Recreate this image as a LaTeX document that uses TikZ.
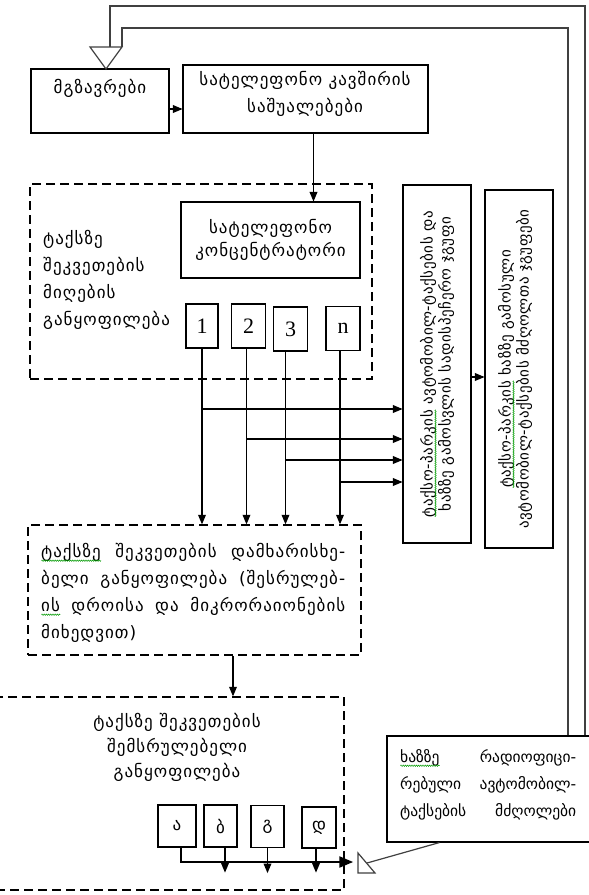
\documentclass[tikz,border=0pt]{standalone}
\usepackage{fontspec}
\setmainfont{DejaVu Sans}
\newfontfamily\geofont[LetterSpace=6]{DejaVu Sans}
\newfontfamily\geovfont[LetterSpace=4]{DejaVu Sans}
\newfontfamily\numfont{Liberation Serif}
\usetikzlibrary{arrows}
\usetikzlibrary{decorations.pathmorphing}
\newsavebox{\errbox}
\newcommand{\spellerr}[1]{\sbox{\errbox}{#1}\rlap{\usebox{\errbox}}\makebox[\wd\errbox][l]{\raisebox{-4pt}{\tikz\draw[green!60!black, line width=0.5pt, decorate, decoration={zigzag, amplitude=0.7pt, segment length=2.2pt}] (0pt,0pt) -- (\wd\errbox,0pt);}}}

\begin{document}
\begin{tikzpicture}[x=1pt,y=-1pt]
  \tikzstyle{box} = [rectangle, draw=black, line width=1.1pt, inner sep=0pt]
  \tikzstyle{dbox} = [rectangle, draw=black, line width=1.4pt, dash pattern=on 9pt off 5pt, inner sep=0pt]
  \tikzstyle{arr} = [-triangle 45, line width=1.2pt]
  \tikzstyle{gtext} = [font=\geofont\fontsize{17}{27}\selectfont, inner sep=0pt]
  \tikzstyle{vtext} = [font=\geovfont\fontsize{15}{18}\selectfont, inner sep=0pt, rotate=90, align=center]
  \tikzstyle{numbox} = [box, minimum width=34, minimum height=44, font=\numfont\fontsize{22}{22}\selectfont]
  \tikzstyle{letbox} = [box, minimum width=34, minimum height=42, font=\fontsize{17}{17}\selectfont]
  \tikzstyle{fback} = [line width=1.2pt, draw=black!75]

  \useasboundingbox (0,0) rectangle (589,895);

  % passengers and telephone lines
  \node[box, minimum width=138, minimum height=64] (pass) at (100,101) {};
  \node[gtext] (passtxt) at (100,88) {მგზავრები};
  \node[box, minimum width=245, minimum height=68] (tel) at (305.5,99) {};
  \node[gtext, align=center] (teltxt) at (305,94) {სატელეფონო კავშირის\\საშუალებები};

  % order reception
  \node[dbox, minimum width=342, minimum height=195] (recv) at (201,281.5) {};
  \node[gtext, align=left, anchor=west] (recvtxt) at (43,280) {ტაქსზე\\შეკვეთების\\მიღების\\განყოფილება};
  \node[box, minimum width=179, minimum height=76, align=center, font=\geofont\fontsize{17}{23}\selectfont] (conc) at (270.5,240) {სატელეფონო\\კონცენტრატორი};
  \node[numbox, minimum width=32] (op1) at (202,326) {1};
  \node[numbox] (op2) at (248.5,326) {2};
  \node[numbox] (op3) at (290.5,329) {3};
  \node[numbox] (opn) at (343,328.5) {n};

  % taxi park boxes
  \node[box, minimum width=68, minimum height=358] (vbox1) at (437,364) {};
  \node[vtext] (vbox1txt) at (vbox1) {\spellerr{ტაქსო-პარკის} ავტომობილ-ტაქსების და\\ხაზზე გამოსვლის სადისპეჩერო ჯგუფი};
  \node[box, minimum width=68, minimum height=358] (vbox2) at (519,369) {};
  \node[vtext] (vbox2txt) at ([xshift=-4]vbox2.center) {\spellerr{ტაქსო-პარკის} ხაზზე გამოსული\\ავტომობილ-ტაქსების მძღოლთა ჯგუფები};

  % sorting
  \node[dbox, minimum width=333, minimum height=130] (sort) at (194.5,590) {};
  \node[gtext, align=left, anchor=west] (sorttxt) at (41,593) {\makebox[304pt][s]{\spellerr{ტაქსზე} შეკვეთების დამხარისხე-}\\\makebox[304pt][s]{ბელი განყოფილება (შესრულებ-}\\\makebox[304pt][s]{\spellerr{ის} დროისა და მიკრორაიონების}\\მიხედვით)};

  % execution
  \node[dbox, minimum width=348, minimum height=193] (exec) at (170,793.5) {};
  \node[gtext, align=center, font=\geofont\fontsize{17}{25}\selectfont] (exectxt) at (177,747) {ტაქსზე შეკვეთების\\შემსრულებელი\\განყოფილება};
  \node[letbox, minimum width=38] (ea) at (177,826) {ა};
  \node[letbox, minimum width=33] (eb) at (220.5,826) {ბ};
  \node[letbox, minimum width=33] (eg) at (267.5,826.5) {გ};
  \node[letbox, minimum height=41] (ed) at (319,827.5) {დ};

  % drivers
  \node[box, minimum width=213, minimum height=106] (drv) at (493.5,789) {};
  \node[gtext, align=left, anchor=west, font=\fontsize{15.5}{27}\selectfont] (drvtxt) at (400,785) {\makebox[176pt][s]{\spellerr{ხაზზე} რადიოფიცი-}\\\makebox[176pt][s]{რებული ავტომობილ-}\\\makebox[176pt][s]{ტაქსების მძღოლები}};

  % connectors
  \draw[arr] ([yshift=-8]pass.east) -- ([yshift=-8]pass.east -| tel.west);
  \draw[arr] ([xshift=8]tel.south) -- ([xshift=8]tel.south |- conc.north);
  \draw[arr] (op1.south) -- (op1.south |- sort.north);
  \draw[arr] ([xshift=-2]op2.south) -- ([xshift=-2]op2.south |- sort.north);
  \draw[arr] ([xshift=-5]op3.south) -- ([xshift=-5]op3.south |- sort.north);
  \draw[arr] ([xshift=-3]opn.south) -- ([xshift=-3]opn.south |- sort.north);
  \draw[arr] (op1.south |- 0,409) -- (vbox1.west |- 0,409);
  \draw[arr] ([xshift=-2]op2.south |- 0,439) -- (vbox1.west |- 0,439);
  \draw[arr] ([xshift=-5]op3.south |- 0,460) -- (vbox1.west |- 0,460);
  \draw[arr] ([xshift=-3]opn.south |- 0,482) -- (vbox1.west |- 0,482);
  \draw[arr] (vbox1.east |- 0,377) -- (vbox2.west |- 0,377);
  \draw[arr] ([xshift=38.5]sort.south) -- ([xshift=38.5]sort.south |- exec.north);

  \coordinate (busend) at (353,862);
  \draw[arr, line width=2.2pt] ([xshift=4]ea.south) |- (busend);
  \draw[arr] ([xshift=4.5]eb.south) -- ++(0,25);
  \draw[arr] (eg.south) -- ++(0,25);
  \draw[arr] ([xshift=-3]ed.south) -- ++(0,24);

  % feedback to passengers
  \coordinate (fbo) at (585,6);
  \coordinate (fbi) at (568,28);
  \coordinate (tri1) at (106,69);
  \draw[fback] (drv.north -| fbo) -- (fbo) -- (110,6) -- (110,47);
  \draw[fback] (drv.north -| fbi) -- (fbi) -- (122,28) -- (122,47);
  \draw[fback, fill=white] (90,47) -- (122,47) -- (tri1) -- cycle;

  \coordinate (tri2) at (367,863);
  \draw[fback] ([xshift=53]drv.south west) -- (tri2);
  \draw[fback, fill=white] (358,853) -- (358,873) -- (375,873) -- cycle;
\end{tikzpicture}
\end{document}
